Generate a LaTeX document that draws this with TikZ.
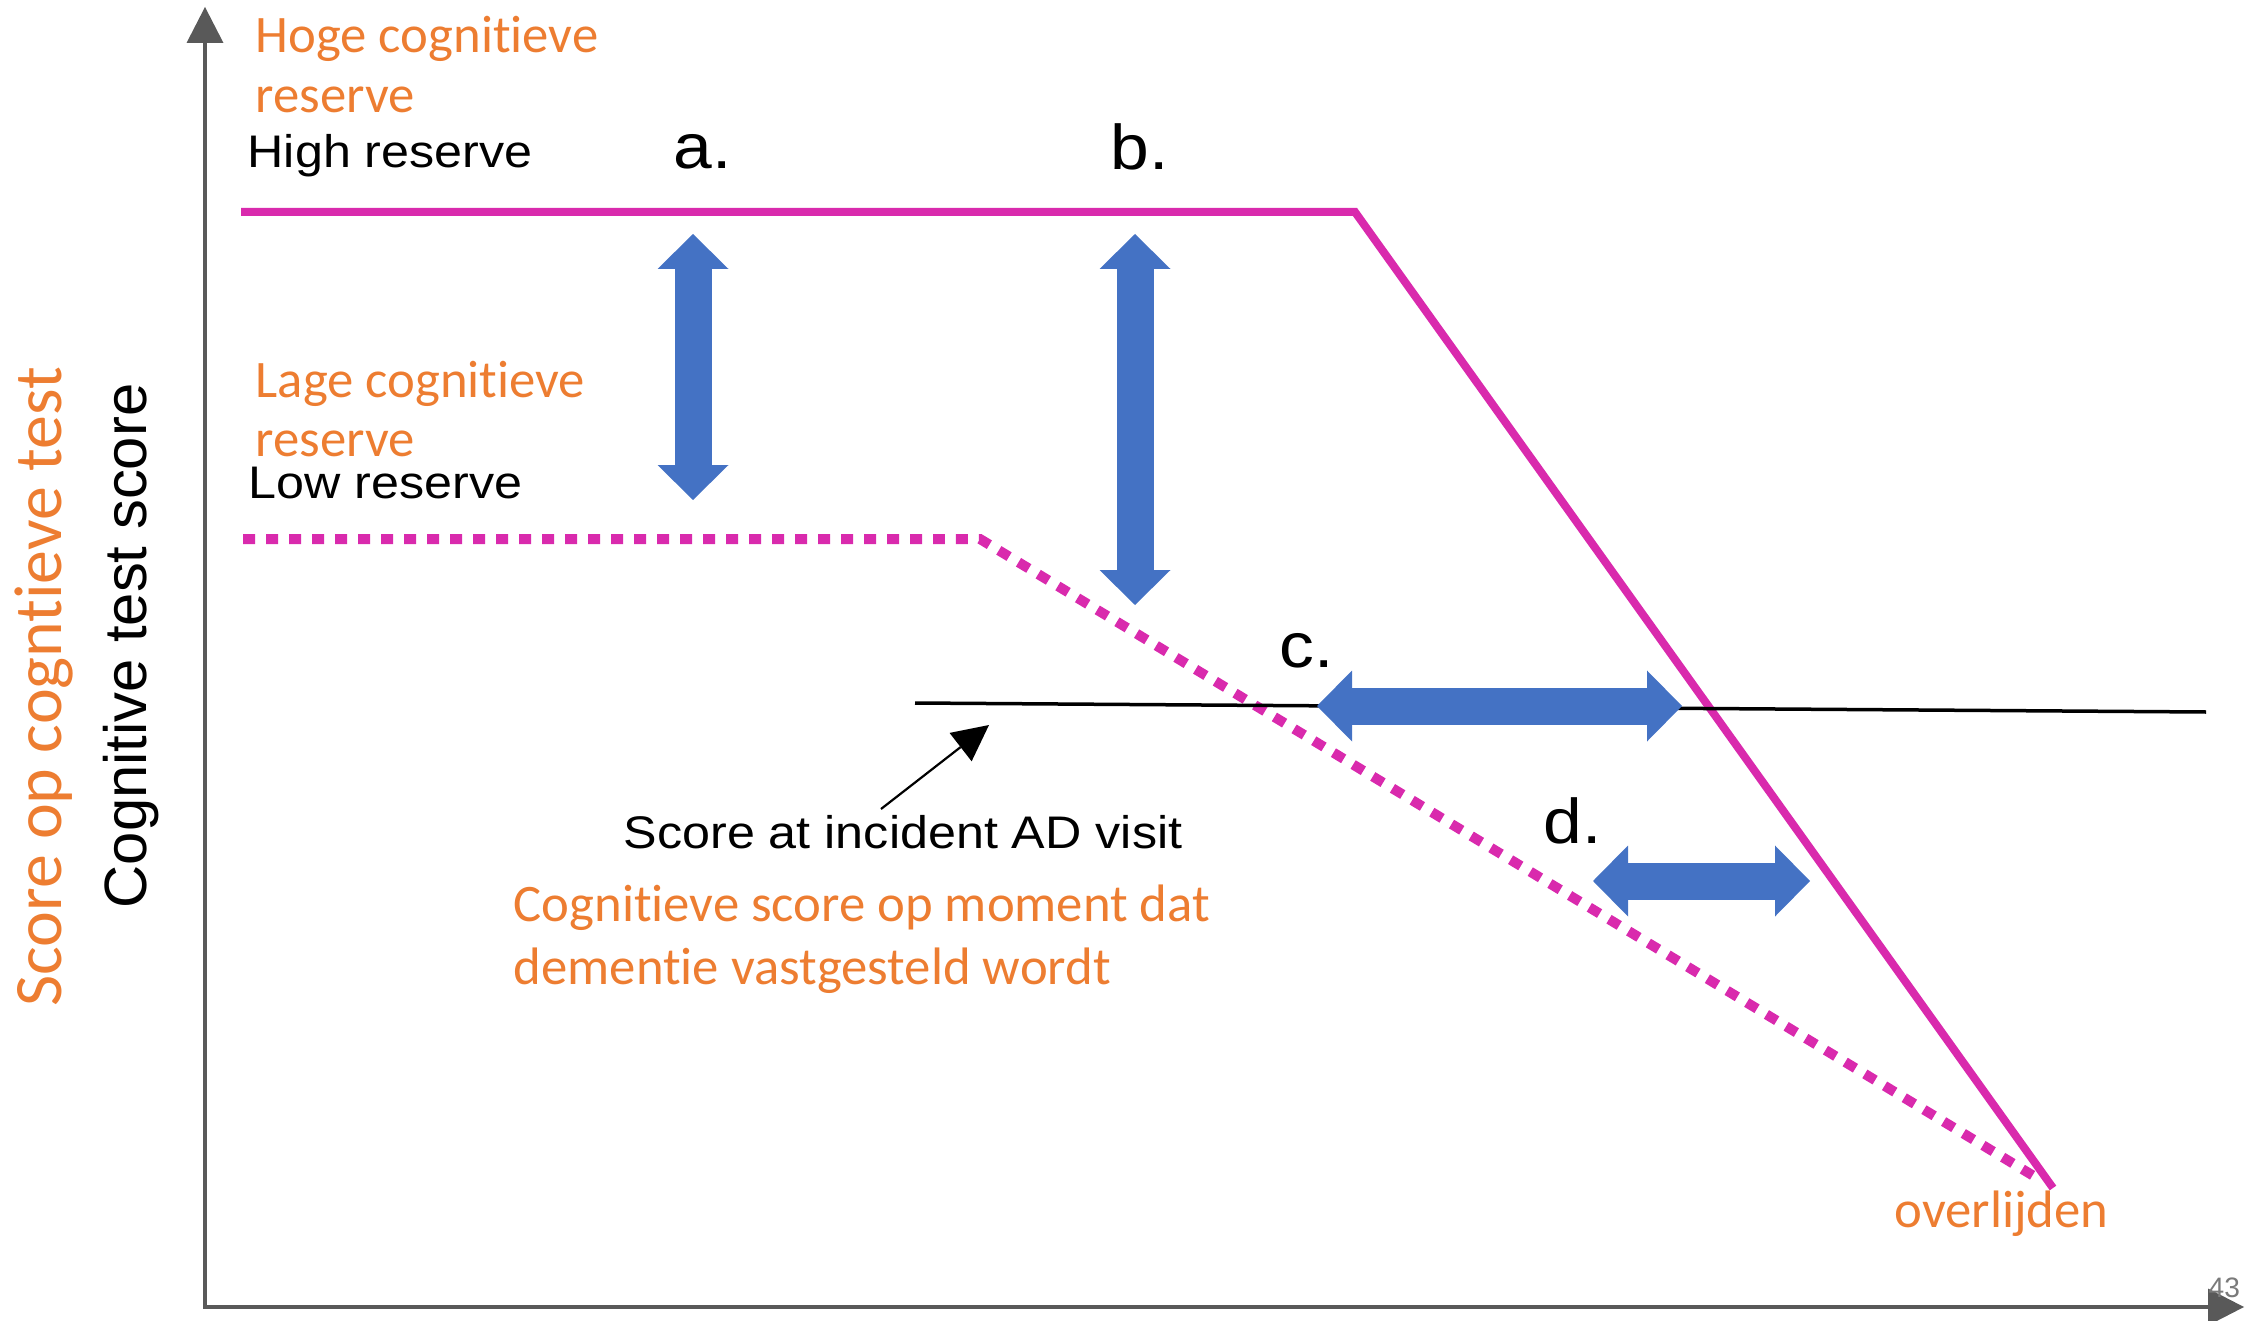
\documentclass[tikz,border=0pt]{standalone}
\usepackage{fontspec}
\setmainfont{Carlito}[RawFeature={-liga;-clig;-calt;-dlig}]
\newfontfamily\figfont[FakeStretch=1.1]{Liberation Sans}
\newfontfamily\sidefont{Liberation Sans}
\usetikzlibrary{arrows.meta}
\definecolor{nlorange}{HTML}{ED7D31}
\definecolor{curvepink}{HTML}{D92AAD}
\definecolor{gapblue}{HTML}{4472C4}
\definecolor{axisgrey}{HTML}{595959}
\newdimen\unit
\tikzset{unit/.code={\unit=\dimexpr#1\relax}}
\tikzset{xy/.style={x={#1},y={-#1},unit={#1}}}
\tikzset{
    nltext/.style={text=nlorange,inner sep=0pt,anchor=base west,font={\fontsize{15pt}{18pt}\selectfont}},
    entext/.style={inner sep=0pt,anchor=base west,font={\figfont\fontsize{13pt}{15pt}\selectfont}},
    tag/.style={inner sep=0pt,anchor=base west,font={\figfont\fontsize{18pt}{21pt}\selectfont}},
    axes/.style={draw=axisgrey,line width=4.5\unit,line join=miter,
        {Triangle[length=3.6mm,width=3.7mm,line width=0pt]}-{Triangle[length=3.6mm,width=3.7mm,line width=0pt]}},
    gaparrow/.style={draw=gapblue,line width=37\unit,
        {Triangle[length=3.5mm,width=7.1mm,line width=0pt]}-{Triangle[length=3.5mm,width=7.1mm,line width=0pt]}},
    highline/.style={draw=curvepink,line width=8\unit,line join=miter},
    lowline/.style={draw=curvepink,line width=10\unit,dash pattern=on 1.2mm off 1.1mm},
}
\begin{document}
\begin{tikzpicture}[xy=.1mm]%
    \path [use as bounding box] (0,0) rectangle (2246,1321);
    % axes
    \coordinate (ytop) at (205,7);
    \coordinate (origin) at (205,1307);
    \coordinate (xend) at (2244,1307);
    \path [axes] (ytop) -- (origin) -- (xend);
    \path (62,687) node [nltext,anchor=base,rotate=90,font={\fontsize{19.3pt}{23pt}\selectfont}] (yOrange) {Score op cogntieve test};
    \path (146,646) node [entext,anchor=base,rotate=90,font={\sidefont\fontsize{17pt}{20pt}\selectfont}] (yBlack) {Cognitive test score};
    % reserve curves
    \coordinate (highstart) at (241,212);
    \coordinate (highbend) at (1355,212);
    \coordinate (highend) at (2053,1188);
    \coordinate (lowstart) at (243,539);
    \coordinate (lowbend) at (980,539);
    \coordinate (lowend) at (2037,1178);
    \path [highline] (highstart) -- (highbend) -- (highend);
    \path [lowline] (lowstart) -- (lowbend) -- (lowend);
    \path (255,53) node [nltext] (hogeA) {Hoge cognitieve};
    \path (255,113) node [nltext] (hogeB) {reserve};
    \path (247,168) node [entext] (high) {High reserve};
    \path (255,397) node [nltext] (lageA) {Lage cognitieve};
    \path (255,457) node [nltext] (lageB) {reserve};
    \path (248,498) node [entext] (low) {Low reserve};
    \path (1894,1227) node [nltext] (death) {overlijden};
    % level at diagnosis
    \coordinate (visitL) at (915,703);
    \coordinate (visitR) at (2206,712);
    \path [draw,line width=3.5\unit] (visitL) -- (visitR);
    \path (623,848) node [entext] (visit) {Score at incident AD visit};
    \path (513,921) node [nltext] (momentA) {Cognitieve score op moment dat};
    \path (513,984) node [nltext] (momentB) {dementie vastgesteld wordt};
    \coordinate (ptrtail) at (881,809);
    \coordinate (ptrhead) at (989,725);
    \path [draw,line width=2.2\unit,-{Triangle[length=3.6mm,width=3.6mm,line width=0pt]}] (ptrtail) -- (ptrhead);
    % gaps a. to d.
    \path (673,169) node [tag] (tagA) {a.};
    \path (1110,170) node [tag] (tagB) {b.};
    \path (1279,667) node [tag] (tagC) {c.};
    \path (1543,843) node [tag] (tagD) {d.};
    \path [gaparrow] (693,234) -- (693,500);
    \path [gaparrow] (1135,234) -- (1135,605);
    \path [gaparrow] (1317,706) -- (1682,706);
    \path [gaparrow] (1593,881) -- (1810,881);
    \path (2208,1297) node [entext,text=axisgrey!80,font={\sidefont\fontsize{8pt}{9pt}\selectfont}] (page) {43};
\end{tikzpicture}
\end{document}
